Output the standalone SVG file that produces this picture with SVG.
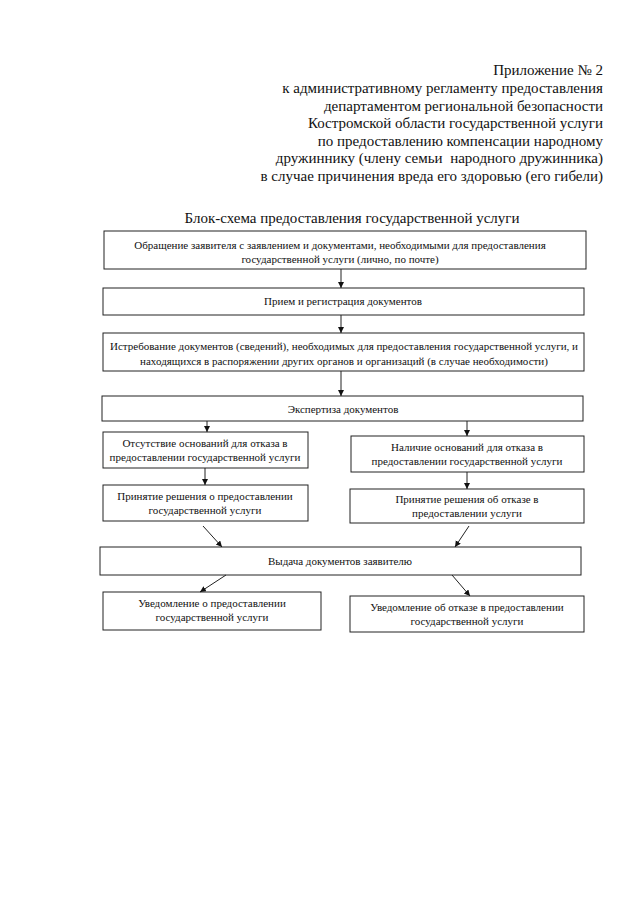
<svg xmlns="http://www.w3.org/2000/svg" width="640" height="905" viewBox="0 0 640 905">
<defs>
<marker id="a" markerUnits="userSpaceOnUse" markerWidth="7" markerHeight="7" refX="6" refY="3" orient="auto">
<path d="M0,0 L6,3 L0,6 z" fill="#111"/>
</marker>
<style>
.box{fill:none;stroke:#222;stroke-width:1}
.t{font-family:"Liberation Serif","DejaVu Serif","Times New Roman",serif;font-size:11px;text-anchor:middle;fill:#111}
.h{font-family:"Liberation Serif","DejaVu Serif","Times New Roman",serif;font-size:15px;text-anchor:end;fill:#111}
.ttl{font-family:"Liberation Serif","DejaVu Serif","Times New Roman",serif;font-size:15px;text-anchor:middle;fill:#111}
.c{stroke:#222;stroke-width:1;fill:none;marker-end:url(#a)}
</style>
</defs>
<rect width="640" height="905" fill="#fff"/>
<g id="header">
<text class="h" x="603" y="75">Приложение № 2</text>
<text class="h" x="603" y="93">к административному регламенту предоставления</text>
<text class="h" x="603" y="110.5">департаментом региональной безопасности</text>
<text class="h" x="603" y="128">Костромской области государственной услуги</text>
<text class="h" x="603" y="145.5">по предоставлению компенсации народному</text>
<text class="h" x="603" y="163" xml:space="preserve">дружиннику (члену семьи  народного дружинника)</text>
<text class="h" x="603" y="181">в случае причинения вреда его здоровью (его гибели)</text>
</g>
<text class="ttl" x="352" y="223">Блок-схема предоставления государственной услуги</text>
<g id="n1"><rect class="box" x="104" y="231" width="482" height="38"/>
<text class="t" x="340" y="248.5">Обращение заявителя с заявлением и документами, необходимыми для предоставления</text>
<text class="t" x="340" y="262.5">государственной услуги (лично, по почте)</text></g>
<g id="n2"><rect class="box" x="103" y="288" width="481" height="27"/>
<text class="t" x="343" y="305">Прием и регистрация документов</text></g>
<g id="n3"><rect class="box" x="103" y="333" width="481" height="38"/>
<text class="t" x="344" y="350">Истребование документов (сведений), необходимых для предоставления государственной услуги, и</text>
<text class="t" x="344" y="365">находящихся в распоряжении других органов и организаций (в случае необходимости)</text></g>
<g id="n4"><rect class="box" x="102" y="396" width="481" height="25"/>
<text class="t" x="343" y="412.5">Экспертиза документов</text></g>
<g id="n5l"><rect class="box" x="103" y="432" width="205" height="36"/>
<text class="t" x="205" y="446.5">Отсутствие оснований для отказа в</text>
<text class="t" x="205" y="461">предоставлении государственной услуги</text></g>
<g id="n5r"><rect class="box" x="351" y="436" width="233" height="36"/>
<text class="t" x="467" y="450.5">Наличие оснований для отказа в</text>
<text class="t" x="467" y="465">предоставлении государственной услуги</text></g>
<g id="n6l"><rect class="box" x="103" y="485" width="205" height="36"/>
<text class="t" x="205" y="499.5">Принятие решения о предоставлении</text>
<text class="t" x="205" y="514">государственной услуги</text></g>
<g id="n6r"><rect class="box" x="350" y="489" width="234" height="34"/>
<text class="t" x="467" y="503">Принятие решения об отказе в</text>
<text class="t" x="467" y="517">предоставлении услуги</text></g>
<g id="n7"><rect class="box" x="100" y="547" width="481" height="28"/>
<text class="t" x="340" y="564.5">Выдача документов заявителю</text></g>
<g id="n8l"><rect class="box" x="103" y="592" width="218" height="38"/>
<text class="t" x="212" y="607">Уведомление о предоставлении</text>
<text class="t" x="212" y="621">государственной услуги</text></g>
<g id="n8r"><rect class="box" x="350" y="596" width="234" height="36"/>
<text class="t" x="467" y="611">Уведомление об отказе в предоставлении</text>
<text class="t" x="467" y="625">государственной услуги</text></g>
<g id="connectors">
<line class="c" x1="341" y1="269" x2="341" y2="288"/>
<line class="c" x1="341" y1="315" x2="341" y2="333"/>
<line class="c" x1="341" y1="371" x2="341" y2="396"/>
<line class="c" x1="207" y1="421" x2="207" y2="432"/>
<line class="c" x1="467" y1="421" x2="467" y2="436"/>
<line class="c" x1="205" y1="468" x2="205" y2="485"/>
<line class="c" x1="467" y1="472" x2="467" y2="489"/>
<line class="c" x1="203" y1="526" x2="222" y2="547"/>
<line class="c" x1="469" y1="526" x2="455" y2="547"/>
<line class="c" x1="226" y1="575" x2="200" y2="592"/>
<line class="c" x1="452" y1="575" x2="470" y2="596"/>
</g>
</svg>
